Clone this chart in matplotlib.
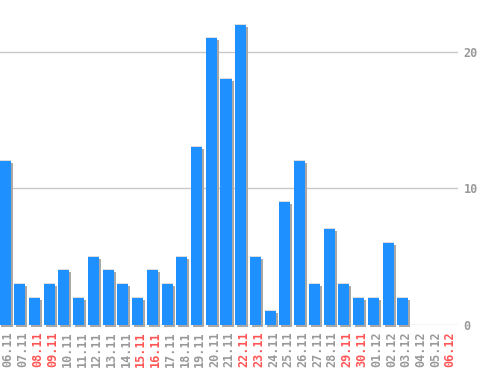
import matplotlib
matplotlib.use("Agg")
import matplotlib.pyplot as plt
import matplotlib.transforms as mtransforms

dates = ["06.11","07.11","08.11","09.11","10.11","11.11","12.11","13.11","14.11","15.11",
         "16.11","17.11","18.11","19.11","20.11","21.11","22.11","23.11","24.11","25.11",
         "26.11","27.11","28.11","29.11","30.11","01.12","02.12","03.12","04.12","05.12","06.12"]
values = [12,3,2,3,4,2,5,4,3,2,4,3,5,13,21,18,22,5,1,9,12,3,7,3,2,2,6,2,0,0,0]
weekend = {"08.11","09.11","15.11","16.11","22.11","23.11","29.11","30.11","06.12"}
yticks = [0, 10, 20]

W, H = 498, 370
fig = plt.figure(figsize=(W/100, H/100), dpi=100)
ax = fig.add_axes([0/W, 1-325/H, 458/W, 325/H])

x = list(range(len(dates)))
bw = 0.75
shadow = mtransforms.offset_copy(ax.transData, fig=fig, x=2, y=-2, units='dots')
hl = mtransforms.offset_copy(ax.transData, fig=fig, x=0, y=1, units='dots')
vals_nz = [v if v > 0 else 0 for v in values]
ax.bar(x, vals_nz, width=bw, color="#a8a8a8", transform=shadow, zorder=2, linewidth=0,
       clip_on=False)
ax.bar(x, vals_nz, width=bw, color="#dddddd", transform=hl, zorder=2.5, linewidth=0)
ax.bar(x, vals_nz, width=bw, color="#1e90ff", zorder=3, linewidth=0)

ax.set_xlim(-0.34, 30.75)
ax.set_ylim(0, 23.8)
ax.set_yticks(yticks)
ax.yaxis.tick_right()
ax.grid(axis='y', color="#c8c8c8", linewidth=1)
ax.set_axisbelow(True)
for s in ax.spines.values():
    s.set_visible(False)
ax.tick_params(axis='y', length=0, pad=4, labelcolor="#999999", labelsize=8.5)
for lab in ax.get_yticklabels():
    lab.set_fontfamily("DejaVu Sans Mono")
    lab.set_fontweight("bold")

ax.set_xticks([])
ax.patch.set_alpha(0)
for i, d in enumerate(dates):
    col = "#ff5555" if d in weekend else "#999999"
    ax.text(i + 0.22, -0.5, d, rotation=90, ha='center', va='top', color=col,
            fontsize=8.5, family="DejaVu Sans Mono", fontweight="bold",
            transform=ax.transData, clip_on=False)

fig.savefig("out.png", dpi=100)
